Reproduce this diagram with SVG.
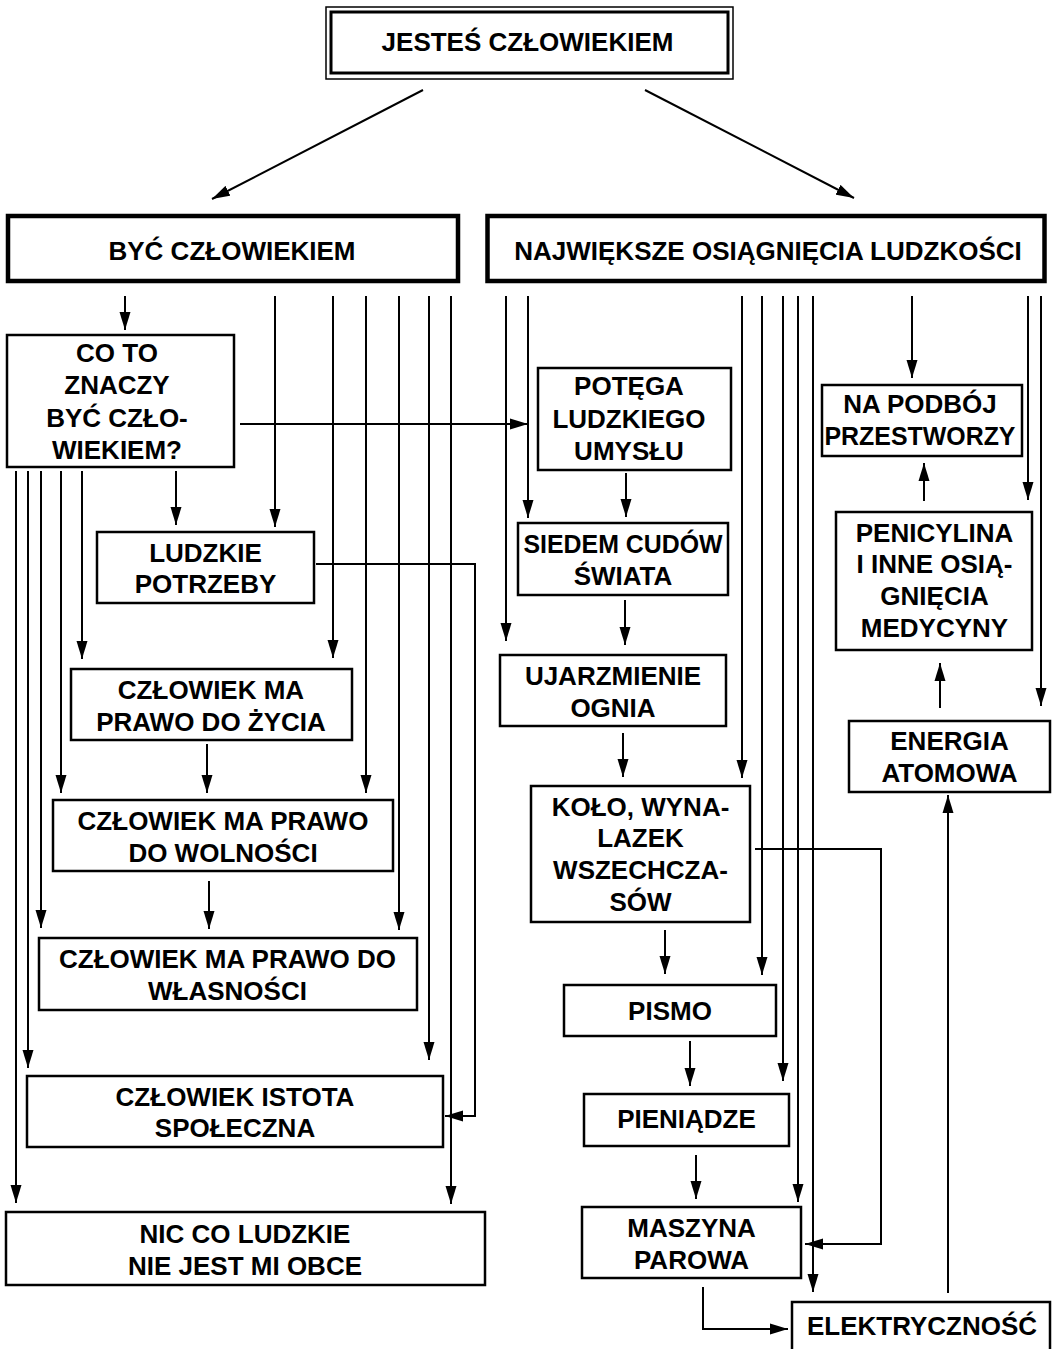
<svg xmlns="http://www.w3.org/2000/svg" width="1052" height="1349" viewBox="0 0 1052 1349">
<style>
text{font-family:"Liberation Sans",Arial,sans-serif;font-weight:bold;font-size:26px;fill:#000;text-anchor:middle}
.box{fill:#fff;stroke:#000;stroke-width:2.5}
.thick{fill:#fff;stroke:#000;stroke-width:4.5}
.c{fill:none;stroke:#000;stroke-width:2;marker-end:url(#ah)}
</style>
<defs>
<marker id="ah" markerUnits="userSpaceOnUse" markerWidth="18" markerHeight="12" refX="18" refY="6" orient="auto">
<path d="M0,0.5 L18,6 L0,11.5 z" fill="#000"/>
</marker>
</defs>
<rect width="1052" height="1349" fill="#fff"/>
<g id="connectors">
<path class="c" d="M423,90 L212,199"/>
<path class="c" d="M645,90 L854,198"/>
<path class="c" d="M125,296 V330"/>
<path class="c" d="M275,296 V527"/>
<path class="c" d="M333,296 V658"/>
<path class="c" d="M366,296 V793"/>
<path class="c" d="M399,296 V930"/>
<path class="c" d="M429,296 V1060"/>
<path class="c" d="M451,296 V1204"/>
<path class="c" d="M176,471 V525"/>
<path class="c" d="M82,471 V659"/>
<path class="c" d="M61,471 V793"/>
<path class="c" d="M41,471 V928"/>
<path class="c" d="M28,471 V1068"/>
<path class="c" d="M16,471 V1203"/>
<path class="c" d="M240,424 H528"/>
<path class="c" d="M316,564 H475 V1116 H445"/>
<path class="c" d="M207,744 V793"/>
<path class="c" d="M209,881 V929"/>
<path class="c" d="M506,296 V641"/>
<path class="c" d="M528,296 V518"/>
<path class="c" d="M626,473 V517"/>
<path class="c" d="M625,600 V645"/>
<path class="c" d="M623,733 V777"/>
<path class="c" d="M742,296 V778"/>
<path class="c" d="M762,296 V975"/>
<path class="c" d="M783,296 V1081"/>
<path class="c" d="M798,296 V1202"/>
<path class="c" d="M813,296 V1292"/>
<path class="c" d="M912,296 V378"/>
<path class="c" d="M1028,296 V500"/>
<path class="c" d="M1041,296 V706"/>
<path class="c" d="M924,501 V463"/>
<path class="c" d="M940,708 V663"/>
<path class="c" d="M948,1293 V795"/>
<path class="c" d="M665,930 V974"/>
<path class="c" d="M755,849 H881 V1244 H805"/>
<path class="c" d="M690,1041 V1086"/>
<path class="c" d="M696,1155 V1199"/>
<path class="c" d="M703,1287 V1329 H788"/>
</g>
<g id="n-jestes">
<rect x="326" y="7" width="407" height="72" fill="#fff" stroke="#000" stroke-width="1.5"/>
<rect x="331" y="12" width="397" height="61" fill="none" stroke="#000" stroke-width="3"/>
<text x="527.5" y="51">JESTEŚ CZŁOWIEKIEM</text>
</g>
<g id="n-byc">
<rect class="thick" x="8" y="216" width="450" height="65"/>
<text x="232" y="260">BYĆ CZŁOWIEKIEM</text>
</g>
<g id="n-najwieksze">
<rect class="thick" x="487.5" y="216" width="557" height="65"/>
<text x="768" y="260">NAJWIĘKSZE OSIĄGNIĘCIA LUDZKOŚCI</text>
</g>
<g id="n-coto">
<rect class="box" x="7" y="335" width="227" height="132"/>
<text x="117" y="362">CO TO</text>
<text x="117" y="394">ZNACZY</text>
<text x="117" y="427">BYĆ CZŁO-</text>
<text x="117" y="459">WIEKIEM?</text>
</g>
<g id="n-potrzeby">
<rect class="box" x="97" y="532" width="217" height="71"/>
<text x="205.5" y="562">LUDZKIE</text>
<text x="205.5" y="593">POTRZEBY</text>
</g>
<g id="n-zycie">
<rect class="box" x="71" y="669" width="281" height="71"/>
<text x="211" y="699">CZŁOWIEK MA</text>
<text x="211" y="731">PRAWO DO ŻYCIA</text>
</g>
<g id="n-wolnosc">
<rect class="box" x="53" y="800" width="340" height="71"/>
<text x="223" y="830">CZŁOWIEK MA PRAWO</text>
<text x="223" y="862">DO WOLNOŚCI</text>
</g>
<g id="n-wlasnosc">
<rect class="box" x="39" y="938" width="378" height="72"/>
<text x="227.5" y="968">CZŁOWIEK MA PRAWO DO</text>
<text x="227.5" y="1000">WŁASNOŚCI</text>
</g>
<g id="n-istota">
<rect class="box" x="27" y="1076" width="416" height="71"/>
<text x="235" y="1106">CZŁOWIEK ISTOTA</text>
<text x="235" y="1137">SPOŁECZNA</text>
</g>
<g id="n-nic">
<rect class="box" x="6" y="1212" width="479" height="73"/>
<text x="245" y="1243">NIC CO LUDZKIE</text>
<text x="245" y="1275">NIE JEST MI OBCE</text>
</g>
<g id="n-potega">
<rect class="box" x="538" y="368" width="193" height="102"/>
<text x="629" y="395">POTĘGA</text>
<text x="629" y="428">LUDZKIEGO</text>
<text x="629" y="460">UMYSŁU</text>
</g>
<g id="n-siedem">
<rect class="box" x="518" y="523" width="210" height="72"/>
<text x="623" y="553" textLength="199" lengthAdjust="spacingAndGlyphs">SIEDEM CUDÓW</text>
<text x="623" y="585">ŚWIATA</text>
</g>
<g id="n-ogien">
<rect class="box" x="500" y="655" width="226" height="71"/>
<text x="613" y="685">UJARZMIENIE</text>
<text x="613" y="717">OGNIA</text>
</g>
<g id="n-kolo">
<rect class="box" x="531" y="786" width="219" height="136"/>
<text x="640.5" y="816">KOŁO, WYNA-</text>
<text x="640.5" y="847">LAZEK</text>
<text x="640.5" y="879">WSZECHCZA-</text>
<text x="640.5" y="911">SÓW</text>
</g>
<g id="n-pismo">
<rect class="box" x="564" y="985" width="212" height="51"/>
<text x="670" y="1020">PISMO</text>
</g>
<g id="n-pieniadze">
<rect class="box" x="584" y="1094" width="205" height="52"/>
<text x="686.5" y="1128">PIENIĄDZE</text>
</g>
<g id="n-maszyna">
<rect class="box" x="582" y="1207" width="219" height="71"/>
<text x="691.5" y="1237">MASZYNA</text>
<text x="691.5" y="1269">PAROWA</text>
</g>
<g id="n-elektrycznosc">
<rect class="box" x="792" y="1302" width="258" height="70"/>
<text x="922" y="1335">ELEKTRYCZNOŚĆ</text>
</g>
<g id="n-energia">
<rect class="box" x="849" y="721" width="201" height="71"/>
<text x="949.5" y="750">ENERGIA</text>
<text x="949.5" y="782">ATOMOWA</text>
</g>
<g id="n-penicylina">
<rect class="box" x="836" y="512" width="196" height="138"/>
<text x="934.5" y="542">PENICYLINA</text>
<text x="934.5" y="573">I INNE OSIĄ-</text>
<text x="934.5" y="605">GNIĘCIA</text>
<text x="934.5" y="637">MEDYCYNY</text>
</g>
<g id="n-podboj">
<rect class="box" x="822" y="385" width="200" height="71"/>
<text x="920" y="413">NA PODBÓJ</text>
<text x="920" y="445" textLength="191" lengthAdjust="spacingAndGlyphs">PRZESTWORZY</text>
</g>
</svg>
